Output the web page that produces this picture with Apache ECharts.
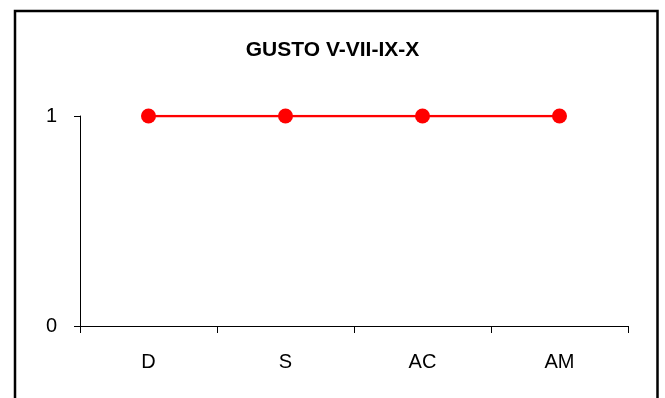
<!DOCTYPE html>
<html>
<head>
<meta charset="utf-8">
<script src="https://cdn.jsdelivr.net/npm/echarts@6/dist/echarts.min.js"></script>
<style>
  html, body { margin: 0; padding: 0; background: #fff; }
  #chart { width: 665px; height: 398px; }
</style>
</head>
<body>
<div id="chart"></div>
<script>
// Taste scores per group
const categories = ['D', 'S', 'AC', 'AM'];
const gustoValues = [1, 1, 1, 1];
const yTicks = [0, 1];

const chart = echarts.init(document.getElementById('chart'), null, { renderer: 'canvas' });
const font = 'Arial, "Liberation Sans", sans-serif';

chart.setOption({
  animation: false,
  backgroundColor: '#fff',
  title: {
    text: 'GUSTO V-VII-IX-X',
    left: 'center',
    top: 35,
    textStyle: { fontFamily: font, fontSize: 21, fontWeight: 'bold', color: '#000' }
  },
  graphic: [{
    type: 'rect',
    shape: { x: 15, y: 11, width: 642.5, height: 400 },
    style: { fill: null, stroke: '#000', lineWidth: 2.5 },
    silent: true
  }],
  grid: { left: 80, right: 37, top: 116, bottom: 72 },
  xAxis: {
    type: 'category',
    data: categories,
    boundaryGap: true,
    axisLine: { lineStyle: { color: '#000', width: 1 } },
    axisTick: { show: true, alignWithLabel: false, length: 7, lineStyle: { color: '#000' } },
    axisLabel: { fontFamily: font, fontSize: 20, color: '#000', margin: 26 },
    splitLine: { show: false }
  },
  yAxis: {
    type: 'value',
    min: yTicks[0],
    max: yTicks[yTicks.length - 1],
    interval: 1,
    axisLine: { show: true, lineStyle: { color: '#000', width: 1 } },
    axisTick: { show: true, length: 6, lineStyle: { color: '#000' } },
    axisLabel: { fontFamily: font, fontSize: 20, color: '#000', margin: 23 },
    splitLine: { show: false }
  },
  series: [{
    type: 'line',
    data: gustoValues,
    symbol: 'circle',
    symbolSize: 15,
    itemStyle: { color: '#ff0000' },
    lineStyle: { color: '#ff0000', width: 2.5 }
  }]
});
</script>
</body>
</html>
